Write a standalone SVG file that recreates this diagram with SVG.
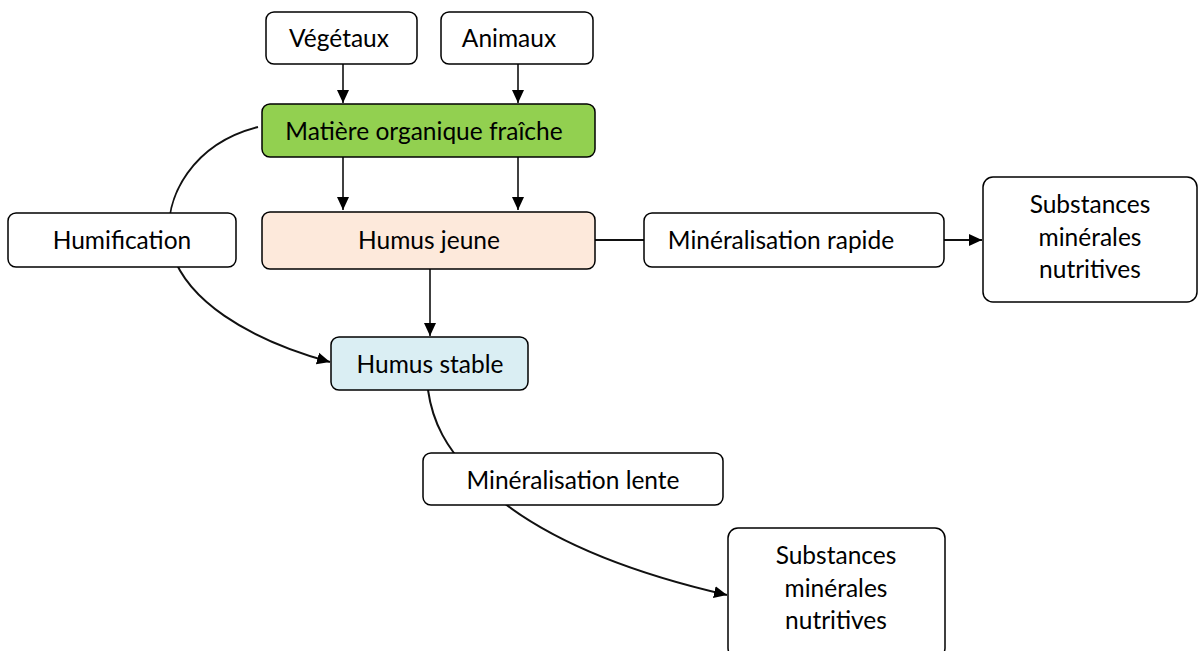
<svg xmlns="http://www.w3.org/2000/svg" width="1198" height="651" viewBox="0 0 1198 651">
<style>
.box{stroke:#000;stroke-width:1.5}
.t{font-family:Lato,"Open Sans","Liberation Sans",sans-serif;font-size:24.5px;fill:#000;text-anchor:middle}
.c{fill:none;stroke:#000;stroke-width:1.5}
.cv{fill:none;stroke:#111;stroke-width:2}
</style>
<defs>
<marker id="ah" markerWidth="14" markerHeight="14" refX="13" refY="7" orient="auto" markerUnits="userSpaceOnUse">
<path d="M0,1 L13,7 L0,13 Z" fill="#000"/>
</marker>
</defs>
<rect width="1198" height="651" fill="#fff"/>
<g id="connectors">
<line class="c" x1="343" y1="64" x2="343" y2="103" marker-end="url(#ah)"/>
<line class="c" x1="518" y1="64" x2="518" y2="103" marker-end="url(#ah)"/>
<line class="c" x1="343" y1="157" x2="343" y2="210" marker-end="url(#ah)"/>
<line class="c" x1="518" y1="157" x2="518" y2="210" marker-end="url(#ah)"/>
<line class="c" x1="430" y1="269" x2="430" y2="336" marker-end="url(#ah)"/>
<line class="cv" x1="595" y1="240" x2="644" y2="240"/>
<line class="cv" x1="944" y1="240" x2="982" y2="240" marker-end="url(#ah)"/>
<path class="cv" d="M258,127 C195,143 162,195 170,245 C182,300 250,340 330,362" marker-end="url(#ah)"/>
<path class="cv" d="M428,390 C433,425 448,448 468,470 C530,540 640,575 727,595" marker-end="url(#ah)"/>
</g>
<g id="vegetaux"><rect class="box" x="266" y="12" width="151" height="52" rx="8" fill="#fff"/><text class="t" x="339" y="47">Végétaux</text></g>
<g id="animaux"><rect class="box" x="441" y="12" width="152" height="52" rx="8" fill="#fff"/><text class="t" x="509" y="47">Animaux</text></g>
<g id="matiere"><rect class="box" x="262" y="104" width="333" height="53" rx="8" fill="#92d050"/><text class="t" x="424" y="140">Matière organique fraîche</text></g>
<g id="humus-jeune"><rect class="box" x="262" y="212" width="333" height="57" rx="8" fill="#fde9db"/><text class="t" x="429" y="249">Humus jeune</text></g>
<g id="humification"><rect class="box" x="8" y="213" width="228" height="54" rx="8" fill="#fff"/><text class="t" x="122" y="249">Humification</text></g>
<g id="humus-stable"><rect class="box" x="331" y="337" width="197" height="53" rx="8" fill="#daeef3"/><text class="t" x="430" y="373">Humus stable</text></g>
<g id="min-rapide"><rect class="box" x="644" y="213" width="300" height="54" rx="8" fill="#fff"/><text class="t" x="781" y="249">Minéralisation rapide</text></g>
<g id="substances1"><rect class="box" x="983" y="177" width="214" height="125" rx="10" fill="#fff"/><text class="t" x="1090" y="213">Substances</text><text class="t" x="1090" y="246">minérales</text><text class="t" x="1090" y="278">nutritives</text></g>
<g id="min-lente"><rect class="box" x="423" y="453" width="300" height="52" rx="8" fill="#fff"/><text class="t" x="573" y="489">Minéralisation lente</text></g>
<g id="substances2"><rect class="box" x="728" y="528" width="217" height="130" rx="10" fill="#fff"/><text class="t" x="836" y="564">Substances</text><text class="t" x="836" y="597">minérales</text><text class="t" x="836" y="629">nutritives</text></g>
</svg>
